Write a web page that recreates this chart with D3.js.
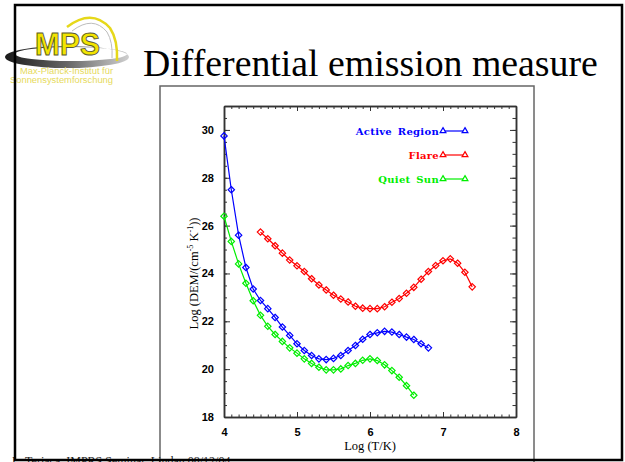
<!DOCTYPE html>
<meta charset="utf-8">
<style>
    body { margin: 0; background: #fff; }
    svg { display: block; }
    .tick-label { font-family: 'Liberation Sans', Arial, sans-serif; font-weight: bold; font-size: 11px; }
    .legend-text { font-family: 'DejaVu Serif', serif; font-weight: bold; font-size: 10px; letter-spacing: 0.3px; word-spacing: 2px; }
    .axis-title { font-family: 'Liberation Serif', 'Times New Roman', serif; font-size: 12.5px; }
</style>
<script src="https://d3js.org/d3.v7.min.js"></script>
<div id="graph"></div>
<script>
    // log T grids, one per series
    const tActive = [4.0, 4.1, 4.2, 4.3, 4.4, 4.5, 4.6, 4.7, 4.8, 4.9, 5.0, 5.1, 5.2, 5.3, 5.4, 5.5, 5.6, 5.7, 5.8, 5.9,
        6.0, 6.1, 6.2, 6.3, 6.4, 6.5, 6.6, 6.7, 6.8];
    const demActive = [29.75, 27.5, 25.6, 24.25, 23.35, 22.87, 22.53, 22.16, 21.76, 21.41, 21.06, 20.78, 20.57, 20.43, 20.40,
        20.45, 20.57, 20.78, 20.99, 21.25, 21.45, 21.52, 21.58, 21.55, 21.45, 21.34, 21.24, 21.06, 20.89];

    const tFlare = [4.5, 4.6, 4.7, 4.8, 4.9, 5.0, 5.1, 5.2, 5.3, 5.4, 5.5, 5.6, 5.7, 5.8, 5.9, 6.0, 6.1, 6.2, 6.3, 6.4,
        6.5, 6.6, 6.7, 6.8, 6.9, 7.0, 7.1, 7.2, 7.3, 7.4];
    const demFlare = [25.73, 25.45, 25.16, 24.85, 24.56, 24.32, 24.08, 23.78, 23.52, 23.31, 23.09, 22.93, 22.81, 22.63, 22.55,
        22.53, 22.53, 22.61, 22.80, 22.95, 23.17, 23.42, 23.76, 24.08, 24.33, 24.53, 24.61, 24.43, 24.05, 23.44];

    const tQuiet = [4.0, 4.1, 4.2, 4.3, 4.4, 4.5, 4.6, 4.7, 4.8, 4.9, 5.0, 5.1, 5.2, 5.3, 5.4, 5.5, 5.6, 5.7, 5.8, 5.9,
        6.0, 6.1, 6.2, 6.3, 6.4, 6.5, 6.6];
    const demQuiet = [26.39, 25.34, 24.40, 23.59, 22.86, 22.25, 21.79, 21.45, 21.16, 20.89, 20.67, 20.43, 20.24, 20.08, 19.97,
        19.97, 20.01, 20.15, 20.24, 20.37, 20.43, 20.36, 20.18, 19.94, 19.66, 19.31, 18.91];

    const seriesNames = ["Active Region", "Flare", "Quiet Sun"];
    const seriesColors = ["#0000ff", "#ff0000", "#00ee00"];

    const xTicks = [4, 5, 6, 7, 8];
    const yTicks = [18, 20, 22, 24, 26, 28, 30];

    const W = 625, H = 462;
    const svg = d3.select("#graph").append("svg").attr("width", W).attr("height", H);

    // ---- slide background ----
    svg.append("rect").attr("width", W).attr("height", H).attr("fill", "#fff");

    // logo
    const logo = svg.append("g");
    const grad = svg.append("defs").append("linearGradient").attr("id", "swoosh");
    grad.append("stop").attr("offset", "0%").attr("stop-color", "#1a1a1a");
    grad.append("stop").attr("offset", "50%").attr("stop-color", "#666");
    grad.append("stop").attr("offset", "100%").attr("stop-color", "#cfcfcf");
    logo.append("path")
        .attr("d", "M5,57 A62,11 0 1,0 129,57 A62,11 0 1,0 5,57 Z M15,54 A56,7 0 1,1 127,54 A56,7 0 1,1 15,54 Z")
        .attr("fill", "url(#swoosh)").attr("fill-rule", "evenodd");
    logo.append("path").attr("d", "M67,27 Q92,8 110,28 Q118,40 117,61")
        .attr("fill", "none").attr("stroke", "#e6d81a").attr("stroke-width", 2.5);
    logo.append("path").attr("d", "M72,31 Q93,15 107,32 Q113,42 112,58")
        .attr("fill", "none").attr("stroke", "#bdbdbd").attr("stroke-width", 1);
    logo.append("text").attr("x", 35).attr("y", 55)
        .attr("font-family", "'Liberation Sans', Arial, sans-serif").attr("font-weight", "bold")
        .attr("font-size", 31).attr("fill", "#f2e400").attr("stroke", "#5a5a30").attr("stroke-width", 0.9)
        .attr("textLength", 65).attr("lengthAdjust", "spacingAndGlyphs")
        .text("MPS");
    logo.append("text").attr("x", 20).attr("y", 74)
        .attr("font-family", "'Liberation Sans', Arial, sans-serif").attr("font-size", 8.5).attr("fill", "#e6da5c")
        .attr("textLength", 93).attr("lengthAdjust", "spacingAndGlyphs")
        .text("Max-Planck-Institut für");
    logo.append("text").attr("x", 10).attr("y", 83)
        .attr("font-family", "'Liberation Sans', Arial, sans-serif").attr("font-size", 8.5).attr("fill", "#e6da5c")
        .attr("textLength", 103).attr("lengthAdjust", "spacingAndGlyphs")
        .text("Sonnensystemforschung");

    // title
    svg.append("text").attr("x", 143).attr("y", 76)
        .attr("font-family", "'Liberation Serif', 'Times New Roman', serif").attr("font-size", 37.8)
        .text("Differential emission measure");

    // chart image frame
    svg.append("rect").attr("x", 160).attr("y", 86).attr("width", 374).attr("height", 380)
        .attr("fill", "#fff").attr("stroke", "#666").attr("stroke-width", 1.5);

    // footer
    svg.append("text").attr("x", 12).attr("y", 465)
        .attr("font-family", "'Liberation Serif', 'Times New Roman', serif").attr("font-size", 12)
        .attr("fill", "#222")
        .text("L. Teriaca, IMPRS Seminar, Lindau 08/12/04");

    // ---- plot ----
    const pLeft = 224, pRight = 516, pTop = 106, pBottom = 417;
    const x = d3.scaleLinear().domain([4, 8]).range([pLeft, pRight]);
    const y = d3.scaleLinear().domain([18, 31]).range([pBottom, pTop]);

    const axisColor = "#333";
    const minorX = d3.range(40, 81).map(d => d / 10);
    const minorY = d3.range(36, 63).map(d => d / 2);

    function styleAxis(g) {
        g.select(".domain").attr("stroke", axisColor).attr("stroke-width", 1.5);
        g.selectAll(".tick line").attr("stroke", axisColor).attr("stroke-width", 1);
    }

    // bottom
    svg.append("g").attr("transform", `translate(0,${pBottom})`)
        .call(d3.axisBottom(x).tickValues(minorX).tickSize(-2.5).tickSizeOuter(0).tickFormat(""))
        .call(styleAxis);
    const xAxis = svg.append("g").attr("transform", `translate(0,${pBottom})`)
        .call(d3.axisBottom(x).tickValues(xTicks).tickSize(-5).tickSizeOuter(0).tickPadding(11).tickFormat(d3.format("d")))
        .call(styleAxis);
    xAxis.selectAll("text").attr("class", "tick-label").attr("fill", "#000");
    // top
    svg.append("g").attr("transform", `translate(0,${pTop})`)
        .call(d3.axisTop(x).tickValues(minorX).tickSize(-3).tickSizeOuter(0).tickFormat(""))
        .call(styleAxis);
    svg.append("g").attr("transform", `translate(0,${pTop})`)
        .call(d3.axisTop(x).tickValues(xTicks).tickSize(-5).tickSizeOuter(0).tickFormat(""))
        .call(styleAxis);
    // left
    svg.append("g").attr("transform", `translate(${pLeft},0)`)
        .call(d3.axisLeft(y).tickValues(minorY).tickSize(-3).tickSizeOuter(0).tickFormat(""))
        .call(styleAxis);
    const yAxis = svg.append("g").attr("transform", `translate(${pLeft},0)`)
        .call(d3.axisLeft(y).tickValues(yTicks).tickSize(-6).tickSizeOuter(0).tickPadding(10).tickFormat(d3.format("d")))
        .call(styleAxis);
    yAxis.selectAll("text").attr("class", "tick-label").attr("fill", "#000");
    // right
    svg.append("g").attr("transform", `translate(${pRight},0)`)
        .call(d3.axisRight(y).tickValues(minorY).tickSize(-3.5).tickSizeOuter(0).tickFormat(""))
        .call(styleAxis);
    svg.append("g").attr("transform", `translate(${pRight},0)`)
        .call(d3.axisRight(y).tickValues(yTicks).tickSize(-6).tickSizeOuter(0).tickFormat(""))
        .call(styleAxis);

    // axis titles
    svg.append("text").attr("class", "axis-title")
        .attr("x", x(6)).attr("y", 450).attr("text-anchor", "middle")
        .text("Log (T/K)");
    const yt = svg.append("text").attr("class", "axis-title")
        .attr("transform", `translate(198,${(pTop + pBottom) / 2 + 12}) rotate(-90)`)
        .attr("text-anchor", "middle");
    yt.append("tspan").text("Log (DEM/(cm");
    yt.append("tspan").attr("dy", -5).attr("font-size", 8).text("-5");
    yt.append("tspan").attr("dy", 5).text(" K");
    yt.append("tspan").attr("dy", -5).attr("font-size", 8).text("-1");
    yt.append("tspan").attr("dy", 5).text("))");

    // series
    const series = [
        {t: tActive, v: demActive},
        {t: tFlare, v: demFlare},
        {t: tQuiet, v: demQuiet}
    ];
    const line = d3.line().x(d => x(d[0])).y(d => y(d[1]));
    const diamond = d3.symbol().type(d3.symbolDiamond2).size(26);

    series.forEach((s, i) => {
        const pts = s.t.map((t, j) => [t, s.v[j]]);
        svg.append("path").datum(pts)
            .attr("d", line).attr("fill", "none")
            .attr("stroke", seriesColors[i]).attr("stroke-width", 1.2);
        svg.append("g").selectAll("path").data(pts).enter().append("path")
            .attr("d", diamond)
            .attr("transform", d => `translate(${x(d[0])},${y(d[1])})`)
            .attr("fill", "none").attr("stroke", seriesColors[i]).attr("stroke-width", 1.2);
    });

    // legend
    const tri = d3.symbol().type(d3.symbolTriangle2).size(24);
    const legendY = [131, 155, 179];
    seriesNames.forEach((name, i) => {
        const g = svg.append("g");
        g.append("text").attr("class", "legend-text")
            .attr("x", 439).attr("y", legendY[i] + 3.5).attr("text-anchor", "end")
            .attr("fill", seriesColors[i]).text(name);
        g.append("line").attr("x1", 443).attr("x2", 465)
            .attr("y1", legendY[i]).attr("y2", legendY[i])
            .attr("stroke", seriesColors[i]).attr("stroke-width", 1.2);
        [443, 465].forEach(px => {
            g.append("path").attr("d", tri)
                .attr("transform", `translate(${px},${legendY[i]})`)
                .attr("fill", "#fff").attr("stroke", seriesColors[i]).attr("stroke-width", 1.2);
        });
    });

    // slide border
    svg.append("rect").attr("x", 15).attr("y", 5).attr("width", 607).attr("height", 455)
        .attr("fill", "none").attr("stroke", "#000").attr("stroke-width", 2.5);
</script>
